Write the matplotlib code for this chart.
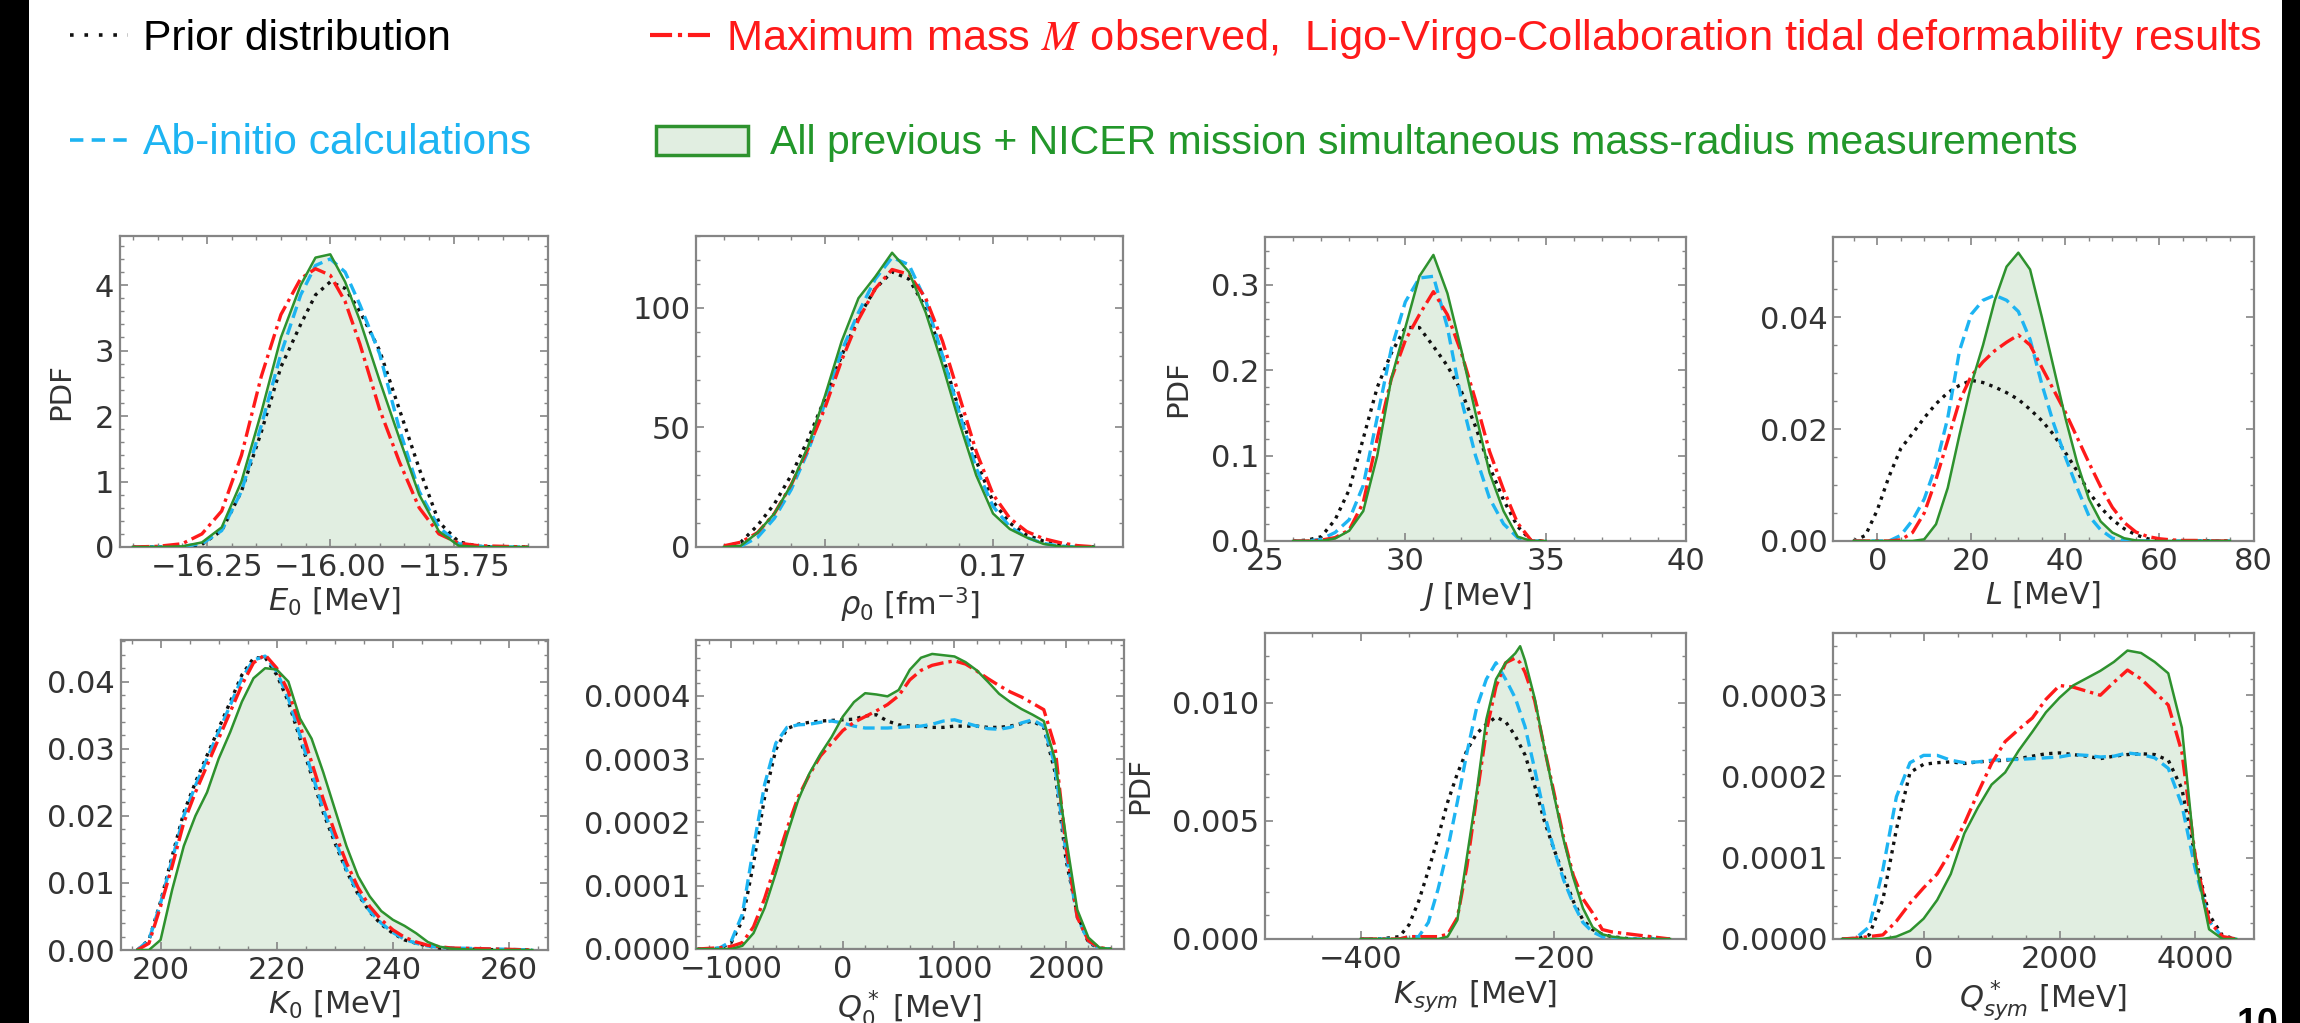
import numpy as np
import matplotlib
matplotlib.use("Agg")
import matplotlib.pyplot as plt
from matplotlib.ticker import AutoMinorLocator, FormatStrFormatter
from matplotlib.patches import Rectangle
from matplotlib.lines import Line2D

# ---------------- data ----------------
# E0 [MeV]
e0_x = [-16.40, -16.35, -16.30, -16.26, -16.22, -16.18, -16.14, -16.10, -16.06, -16.03, -16.00,
        -15.97, -15.94, -15.90, -15.86, -15.82, -15.78, -15.74, -15.70, -15.65, -15.60]
e0_prior = [0, 0, 0, 0.04, 0.25, 0.85, 1.75, 2.75, 3.4, 3.85, 4.05, 3.95, 3.6, 3.0, 2.1, 1.2, 0.38, 0.08, 0.01, 0, 0]
e0_abinitio = [0, 0, 0.01, 0.05, 0.25, 0.85, 1.85, 2.95, 3.85, 4.3, 4.4, 4.2, 3.7, 2.95, 1.8, 0.85, 0.3, 0.05, 0.01, 0, 0]
e0_maxmass = [0, 0.01, 0.05, 0.2, 0.55, 1.4, 2.6, 3.55, 4.1, 4.25, 4.15, 3.75, 3.1, 2.1, 1.3, 0.6, 0.2, 0.06, 0.02, 0.01, 0]
e0_nicer = [0, 0, 0.01, 0.07, 0.3, 1.0, 2.05, 3.2, 4.0, 4.42, 4.47, 4.05, 3.46, 2.54, 1.66, 0.8, 0.24, 0.02, 0, 0, 0]

# rho0 [fm^-3]
rho_x = [0.154, 0.155, 0.156, 0.157, 0.158, 0.159, 0.160, 0.161, 0.162, 0.163, 0.164, 0.165,
         0.166, 0.167, 0.168, 0.169, 0.170, 0.171, 0.172, 0.173, 0.174, 0.175, 0.176]
rho_prior = [0, 2, 9, 18, 30, 45, 62, 80, 96, 108, 115, 112, 100, 80, 57, 36, 19, 10, 5, 2.5, 1, 0.2, 0]
rho_abinitio = [0, 0.3, 4, 12, 24, 40, 60, 82, 98, 112, 121, 118, 103, 80, 56, 33, 17, 8.5, 4, 1.5, 0.4, 0, 0]
rho_maxmass = [0.5, 2, 6, 14, 26, 41, 58, 78, 95, 108, 116, 114, 104, 86, 63, 40, 22, 12, 6.5, 3.5, 1.8, 0.6, 0.1]
rho_nicer = [0, 0.5, 6, 14, 26, 42, 63, 86, 104, 113, 123, 115, 98, 76, 52, 30, 14, 7.5, 4, 1.3, 0.2, 0, 0]

# J [MeV]
j_x = [26, 26.5, 27, 27.5, 28, 28.5, 29, 29.5, 30, 30.5, 31, 31.5, 32, 32.5, 33, 33.5, 34, 34.5, 35]
j_prior = [0, 0.001, 0.005, 0.025, 0.06, 0.12, 0.18, 0.22, 0.25, 0.25, 0.228, 0.205, 0.175, 0.134, 0.087, 0.048, 0.017, 0, 0]
j_abinitio = [0, 0, 0.002, 0.01, 0.025, 0.065, 0.145, 0.225, 0.28, 0.308, 0.31, 0.25, 0.165, 0.1, 0.05, 0.02, 0.004, 0, 0]
j_maxmass = [0, 0, 0.001, 0.004, 0.013, 0.045, 0.12, 0.19, 0.235, 0.265, 0.292, 0.265, 0.22, 0.165, 0.105, 0.06, 0.021, 0, 0]
j_nicer = [0, 0, 0, 0.003, 0.012, 0.035, 0.1, 0.19, 0.25, 0.31, 0.335, 0.29, 0.223, 0.15, 0.08, 0.035, 0.005, 0, 0]

# L [MeV]
l_x = [-5, -2.5, 0, 2.5, 5, 7.5, 10, 12.5, 15, 17.5, 20, 22.5, 25, 27.5, 30, 32.5, 35, 37.5, 40,
       42.5, 45, 47.5, 50, 52.5, 55, 57.5, 60, 62.5, 65, 67.5, 70, 72.5, 75]
l_prior = [0, 0.001, 0.0055, 0.0115, 0.0165, 0.0192, 0.022, 0.0245, 0.0265, 0.0278, 0.0287, 0.0283,
           0.0275, 0.0265, 0.0253, 0.0235, 0.0215, 0.019, 0.0158, 0.0125, 0.0087, 0.006, 0.0038,
           0.0022, 0.0011, 0.0004, 0.0001, 0, 0, 0, 0, 0, 0]
l_abinitio = [0, 0, 0, 0, 0.001, 0.0037, 0.0075, 0.0135, 0.022, 0.034, 0.0405, 0.043, 0.0439, 0.043,
              0.041, 0.036, 0.028, 0.021, 0.015, 0.0095, 0.0045, 0.002, 0.0005, 0.0001, 0, 0, 0, 0,
              0, 0, 0, 0, 0]
l_maxmass = [0, 0, 0, 0, 0.0002, 0.0015, 0.005, 0.011, 0.018, 0.025, 0.0295, 0.032, 0.034, 0.0355,
             0.0368, 0.035, 0.031, 0.027, 0.023, 0.0185, 0.014, 0.0097, 0.006, 0.0033, 0.0016, 0.0008,
             0.0004, 0.0002, 0.0001, 0.0001, 0.00005, 0, 0]
l_nicer = [0, 0, 0, 0, 0, 0, 0.0003, 0.003, 0.0095, 0.019, 0.028, 0.035, 0.043, 0.049, 0.0515, 0.0485,
           0.040, 0.031, 0.022, 0.014, 0.0075, 0.0035, 0.0015, 0.0005, 0.0001, 0, 0, 0, 0, 0, 0, 0, 0]

# K0 [MeV]
k0_x = [196, 198, 200, 202, 204, 206, 208, 210, 212, 214, 216, 218, 220, 222, 224, 226, 228, 230,
        232, 234, 236, 238, 240, 242, 244, 246, 248, 250, 255, 260, 264]
k0_prior = [0, 0.0015, 0.0072, 0.014, 0.0205, 0.025, 0.029, 0.033, 0.037, 0.041, 0.0435, 0.0436, 0.041,
            0.037, 0.0315, 0.026, 0.0205, 0.016, 0.0118, 0.0083, 0.0057, 0.0038, 0.0025, 0.0015, 0.001,
            0.0006, 0.0003, 0.0002, 0.0001, 0, 0]
k0_abinitio = [0, 0.0015, 0.007, 0.0135, 0.02, 0.0245, 0.0285, 0.0325, 0.0365, 0.0405, 0.0432, 0.0438,
               0.0415, 0.0375, 0.032, 0.0265, 0.021, 0.0165, 0.012, 0.0085, 0.0058, 0.004, 0.0026,
               0.0016, 0.001, 0.0006, 0.0004, 0.0003, 0.0002, 0.0001, 0]
k0_maxmass = [0, 0.001, 0.0065, 0.0125, 0.019, 0.0235, 0.0275, 0.0315, 0.0355, 0.0395, 0.0428, 0.044,
              0.042, 0.0385, 0.0335, 0.028, 0.0225, 0.0175, 0.013, 0.0093, 0.0065, 0.0045, 0.003,
              0.0019, 0.0012, 0.0007, 0.0005, 0.0003, 0.0002, 0.0001, 0]
k0_nicer = [0, 0, 0.0015, 0.009, 0.0155, 0.02, 0.0235, 0.0285, 0.0325, 0.037, 0.0405, 0.042, 0.0418,
            0.040, 0.0345, 0.0315, 0.0265, 0.021, 0.0155, 0.011, 0.008, 0.0058, 0.0045, 0.0036,
            0.0025, 0.0012, 0.0005, 0.0002, 0, 0, 0]

# Q0* [MeV]  (PDF values in units of 1e-4)
q0_x = [-1300, -1200, -1100, -1000, -900, -800, -700, -600, -500, -400, -300, -200, -100, 0, 100,
        200, 300, 400, 500, 600, 700, 800, 900, 1000, 1100, 1200, 1300, 1400, 1500, 1600, 1700,
        1800, 1900, 2000, 2100, 2200, 2300, 2400]
q0_prior_e4 = [0, 0, 0.01, 0.1, 0.45, 1.35, 2.4, 3.15, 3.48, 3.55, 3.58, 3.6, 3.61, 3.62, 3.63, 3.68,
               3.7, 3.6, 3.54, 3.52, 3.52, 3.5, 3.5, 3.52, 3.52, 3.52, 3.5, 3.5, 3.52, 3.56, 3.6, 3.5,
               2.8, 1.4, 0.55, 0.1, 0.01, 0]
q0_abinitio_e4 = [0, 0, 0.02, 0.12, 0.55, 1.6, 2.6, 3.25, 3.5, 3.54, 3.55, 3.58, 3.6, 3.57, 3.52, 3.49,
                  3.49, 3.49, 3.5, 3.51, 3.52, 3.55, 3.6, 3.62, 3.57, 3.52, 3.48, 3.47, 3.5, 3.57, 3.62,
                  3.52, 2.9, 1.5, 0.5, 0.12, 0.01, 0]
q0_maxmass_e4 = [0, 0.01, 0.02, 0.04, 0.1, 0.35, 0.8, 1.35, 1.9, 2.4, 2.75, 3.05, 3.25, 3.45, 3.58,
                 3.67, 3.76, 3.86, 4.0, 4.25, 4.4, 4.48, 4.52, 4.55, 4.5, 4.39, 4.27, 4.16, 4.06, 3.98,
                 3.88, 3.78, 3.2, 1.6, 0.5, 0.13, 0.02, 0]
q0_nicer_e4 = [0, 0, 0, 0, 0.05, 0.25, 0.65, 1.2, 1.8, 2.35, 2.77, 3.08, 3.35, 3.67, 3.9, 4.04, 4.02,
               3.99, 4.09, 4.41, 4.6, 4.66, 4.64, 4.62, 4.53, 4.4, 4.22, 4.03, 3.9, 3.79, 3.7, 3.6,
               3.0, 1.75, 0.62, 0.18, 0.02, 0]

# Ksym [MeV]
ks_x = [-400, -380, -360, -350, -340, -330, -320, -310, -300, -290, -280, -270, -260, -250, -240,
        -235, -230, -220, -210, -200, -190, -180, -170, -160, -150, -140, -120, -100, -80]
ks_prior = [0, 0, 0.0001, 0.0006, 0.0016, 0.0029, 0.0043, 0.0058, 0.007, 0.008, 0.0087, 0.0091,
            0.0094, 0.0092, 0.0086, 0.0082, 0.0078, 0.0065, 0.005, 0.0038, 0.0027, 0.0016, 0.0008,
            0.0004, 0.0002, 0.0001, 0, 0, 0]
ks_abinitio = [0, 0, 0, 0.0001, 0.0001, 0.0007, 0.0021, 0.0038, 0.0058, 0.0079, 0.0098, 0.011, 0.0117,
               0.011, 0.0102, 0.0096, 0.009, 0.0072, 0.0053, 0.0038, 0.0025, 0.0015, 0.0007, 0.0003,
               0.0001, 0, 0, 0, 0]
ks_maxmass = [0, 0, 0, 0.0001, 0.0001, 0.0001, 0.0001, 0.0002, 0.0009, 0.0031, 0.006, 0.0088, 0.0107,
              0.0117, 0.0119, 0.0117, 0.0113, 0.0101, 0.0081, 0.0062, 0.0043, 0.0027, 0.0017, 0.0011,
              0.0004, 0.0003, 0.0002, 0.0001, 0]
ks_nicer = [0, 0, 0, 0, 0, 0, 0, 0.0001, 0.0008, 0.0035, 0.0062, 0.0093, 0.011, 0.0117, 0.0121,
            0.0124, 0.0118, 0.0102, 0.0081, 0.0061, 0.0042, 0.0026, 0.0013, 0.0005, 0.0002, 0.0001,
            0, 0, 0]

# Qsym* [MeV]  (PDF values in units of 1e-4)
qs_x = [-1200, -1000, -800, -600, -400, -200, 0, 200, 400, 600, 800, 1000, 1200, 1400, 1600, 1800,
        2000, 2200, 2400, 2600, 2800, 3000, 3200, 3400, 3600, 3800, 4000, 4200, 4400, 4600]
qs_prior_e4 = [0, 0, 0.05, 0.48, 1.35, 2.05, 2.15, 2.17, 2.18, 2.16, 2.18, 2.19, 2.2, 2.22, 2.25, 2.28,
               2.29, 2.27, 2.25, 2.22, 2.25, 2.27, 2.28, 2.27, 2.2, 1.85, 1.0, 0.3, 0.04, 0]
qs_abinitio_e4 = [0, 0.01, 0.15, 0.85, 1.75, 2.17, 2.26, 2.26, 2.2, 2.17, 2.18, 2.2, 2.21, 2.21, 2.22,
                  2.23, 2.24, 2.27, 2.26, 2.24, 2.25, 2.29, 2.27, 2.23, 2.1, 1.65, 0.85, 0.22, 0.02, 0]
qs_maxmass_e4 = [0, 0.01, 0.03, 0.05, 0.22, 0.44, 0.63, 0.8, 1.08, 1.42, 1.8, 2.16, 2.43, 2.58, 2.72,
                 2.95, 3.12, 3.1, 3.05, 3.0, 3.16, 3.31, 3.2, 3.04, 2.88, 2.3, 1.0, 0.22, 0.03, 0]
qs_nicer_e4 = [0, 0, 0, 0, 0.03, 0.1, 0.25, 0.48, 0.8, 1.3, 1.62, 1.9, 2.05, 2.32, 2.55, 2.79, 2.97,
               3.12, 3.21, 3.3, 3.41, 3.55, 3.52, 3.41, 3.27, 2.6, 0.95, 0.12, 0, 0]

legend_labels = ["Prior distribution",
                 "Maximum mass $M$ observed,  Ligo-Virgo-Collaboration tidal deformability results",
                 "Ab-initio calculations",
                 "All previous + NICER mission simultaneous mass-radius measurements"]

# ---------------- styling ----------------
W, H = 2300, 1023
C_PRIOR = "#111111"
C_AB = "#1db4f2"
C_MM = "#ff1a1a"
C_NI = "#2e922e"
C_FILL = "#e1eee1"
C_SPINE = "#858585"
C_TXT = "#333333"
FS = 22

fig = plt.figure(figsize=(W / 100, H / 100), dpi=100)
fig.patch.set_facecolor("white")


def add_axes_px(x0, y0, x1, y1):
    return fig.add_axes([x0 / W, 1 - y1 / H, (x1 - x0) / W, (y1 - y0) / H])


panels = [
    dict(box=(119.5, 236, 548, 547), x=e0_x, ys=(e0_prior, e0_abinitio, e0_maxmass, e0_nicer), sc=1,
         xlim=(-16.427, -15.559), ylim=(0, 4.75), xt=[-16.25, -16.0, -15.75], yt=[0, 1, 2, 3, 4],
         yf=None, xl=r"$E_0$ [MeV]", yl=-0.104),
    dict(box=(696, 236, 1123, 547), x=rho_x, ys=(rho_prior, rho_abinitio, rho_maxmass, rho_nicer), sc=1,
         xlim=(0.15234, 0.17773), ylim=(0, 130), xt=[0.16, 0.17], yt=[0, 50, 100],
         yf=None, xl=r"$\rho_0$ [fm$^{-3}$]", yl=None),
    dict(box=(1265, 237, 1686, 541), x=j_x, ys=(j_prior, j_abinitio, j_maxmass, j_nicer), sc=1,
         xlim=(25, 40), ylim=(0, 0.356), xt=[25, 30, 35, 40], yt=[0, 0.1, 0.2, 0.3],
         yf="%.1f", xl=r"$J$ [MeV]", yl=-0.173),
    dict(box=(1833, 237, 2253.5, 541), x=l_x, ys=(l_prior, l_abinitio, l_maxmass, l_nicer), sc=1,
         xlim=(-9.4, 80), ylim=(0, 0.0543), xt=[0, 20, 40, 60, 80], yt=[0, 0.02, 0.04],
         yf="%.2f", xl=r"$L$ [MeV]", yl=None),
    dict(box=(120.5, 640, 548, 950), x=k0_x, ys=(k0_prior, k0_abinitio, k0_maxmass, k0_nicer), sc=1,
         xlim=(193.1, 266.7), ylim=(0, 0.0462), xt=[200, 220, 240, 260], yt=[0, 0.01, 0.02, 0.03, 0.04],
         yf="%.2f", xl=r"$K_0$ [MeV]", yl=-0.219),
    dict(box=(696, 640, 1123.5, 949), x=q0_x, ys=(q0_prior_e4, q0_abinitio_e4, q0_maxmass_e4, q0_nicer_e4),
         sc=1e-4, xlim=(-1315, 2514), ylim=(0, 0.000488), xt=[-1000, 0, 1000, 2000],
         yt=[0, 0.0001, 0.0002, 0.0003, 0.0004], yf="%.4f", xl=r"$Q_0^*$ [MeV]", yl=None),
    dict(box=(1265, 633, 1686, 939), x=ks_x, ys=(ks_prior, ks_abinitio, ks_maxmass, ks_nicer), sc=1,
         xlim=(-499, -63.4), ylim=(0, 0.01296), xt=[-400, -200], yt=[0, 0.005, 0.010],
         yf="%.3f", xl=r"$K_{sym}$ [MeV]", yl=-0.264),
    dict(box=(1833, 633, 2253.5, 939), x=qs_x, ys=(qs_prior_e4, qs_abinitio_e4, qs_maxmass_e4, qs_nicer_e4),
         sc=1e-4, xlim=(-1333, 4854), ylim=(0, 0.0003766), xt=[0, 2000, 4000],
         yt=[0, 0.0001, 0.0002, 0.0003], yf="%.4f", xl=r"$Q_{sym}^*$ [MeV]", yl=None),
]

for p in panels:
    ax = add_axes_px(*p["box"])
    x = np.array(p["x"], dtype=float)
    prior, ab, mm, ni = [np.array(v, dtype=float) * p["sc"] for v in p["ys"]]
    ax.fill_between(x, 0, ni, facecolor=C_FILL, edgecolor="none", zorder=1)
    ax.plot([x[0], x[-1]], [0, 0], color=C_NI, lw=2.2, zorder=2)
    ax.plot(x, prior, linestyle=(0, (1, 1.6)), color=C_PRIOR, lw=2.4, zorder=3)
    ax.plot(x, ab, linestyle=(0, (3.5, 1.8)), color=C_AB, lw=2.4, zorder=4)
    ax.plot(x, mm, linestyle=(0, (5, 1.5, 1, 1.5)), color=C_MM, lw=2.4, zorder=5)
    ax.plot(x, ni, "-", color=C_NI, lw=1.8, zorder=6)
    ax.set_xlim(*p["xlim"])
    ax.set_ylim(*p["ylim"])
    ax.set_xticks(p["xt"])
    ax.set_yticks(p["yt"])
    if p["yf"]:
        ax.yaxis.set_major_formatter(FormatStrFormatter(p["yf"]))
    ax.xaxis.set_minor_locator(AutoMinorLocator())
    ax.yaxis.set_minor_locator(AutoMinorLocator())
    ax.tick_params(which="both", direction="in", top=True, right=True, colors=C_SPINE,
                   labelcolor=C_TXT, labelsize=FS, pad=4)
    ax.tick_params(which="major", length=5.5, width=1.2)
    ax.tick_params(which="minor", length=3, width=1.0)
    for s in ax.spines.values():
        s.set_color(C_SPINE)
        s.set_linewidth(1.6)
    ax.set_xlabel(p["xl"], fontsize=FS, color=C_TXT, labelpad=3)
    if p["yl"] is not None:
        ax.set_ylabel("PDF", fontsize=FS - 1, color=C_TXT)
        ax.yaxis.set_label_coords(p["yl"], 0.5)

# ---------------- legend on top ----------------
LF = "Liberation Sans"


def fx(px):
    return px / W


def fy(py):
    return 1 - py / H


fig.add_artist(Line2D([fx(70), fx(128)], [fy(35), fy(35)], linestyle=(0, (1, 3)), color=C_PRIOR, lw=2.6))
fig.text(fx(143), fy(50), legend_labels[0], fontsize=30.7, family=LF, color="black", va="baseline")

fig.add_artist(Line2D([fx(650), fx(711)], [fy(35), fy(35)], linestyle=(0, (5.3, 1.4, 1, 1.4)), color=C_MM, lw=3))
fig.text(fx(726), fy(50), legend_labels[1], fontsize=31.2, family=LF, color=C_MM, va="baseline",
         math_fontfamily="stix")

fig.add_artist(Line2D([fx(70), fx(128)], [fy(140), fy(140)], linestyle=(0, (3.7, 2.3)), color=C_AB, lw=2.6))
fig.text(fx(143), fy(154), legend_labels[2], fontsize=30.7, family=LF, color=C_AB, va="baseline")

fig.add_artist(Rectangle((fx(656), fy(155)), 92 / W, 29 / H, transform=fig.transFigure,
                         facecolor=C_FILL, edgecolor=C_NI, lw=2.5))
fig.text(fx(770), fy(154), legend_labels[3], fontsize=29.5, family=LF, color="#22972a", va="baseline")

# page number (partly off the slide)
fig.text(fx(2278), fy(1035), "10", fontsize=27, family=LF, weight="bold", color="black",
         ha="right", va="baseline")

# black borders of the screenshot
fig.add_artist(Rectangle((0, 0), 29 / W, 1, transform=fig.transFigure, facecolor="black",
                         edgecolor="none", zorder=100))
fig.add_artist(Rectangle((fx(2282), 0), 18 / W, 1, transform=fig.transFigure, facecolor="black",
                         edgecolor="none", zorder=100))

fig.savefig("out.png", dpi=100)
